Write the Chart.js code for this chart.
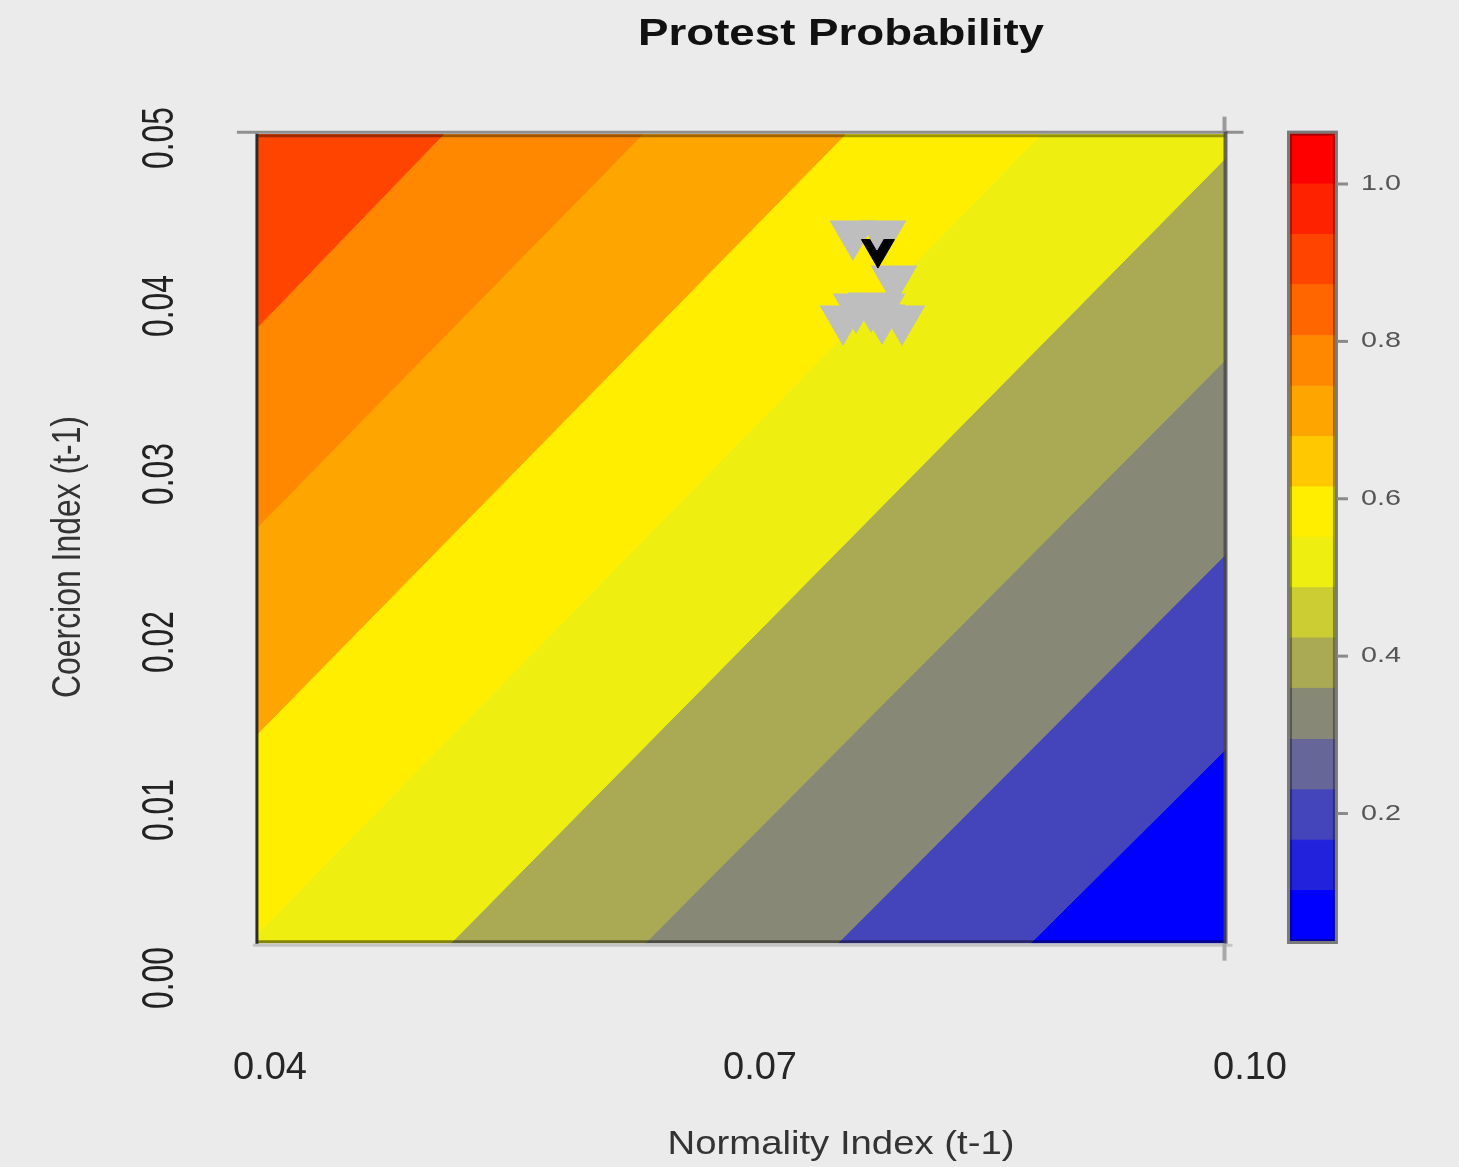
<!DOCTYPE html>
<html><head><meta charset="utf-8">
<script src="https://cdn.jsdelivr.net/npm/chart.js@4.4.1/dist/chart.umd.min.js"></script>
<style>html,body{margin:0;padding:0;background:#ebebeb;}canvas{display:block;}</style>
</head><body>
<canvas id="c" width="1459" height="1167" style="width:1459px;height:1167px"></canvas>
<script>
// ---------- data ----------
const xTicks = [0.04, 0.07, 0.10];
const xTickLabels = ['0.04', '0.07', '0.10'];
const yTicks = [0.00, 0.01, 0.02, 0.03, 0.04, 0.05];
const yTickLabels = ['0.00', '0.01', '0.02', '0.03', '0.04', '0.05'];
const keyTicks = [0.2, 0.4, 0.6, 0.8, 1.0];
const keyTickLabels = ['0.2', '0.4', '0.6', '0.8', '1.0'];

// grid extent of the filled contour
const boxX = [0.0392, 0.0985];
const boxY = [0.0021, 0.0502];

// contour boundaries (straight lines), from top-left to bottom-right
const contourX0 = [0.0392, 0.0392, 0.0392, 0.0392, 0.0512, 0.0631, 0.0749, 0.0867];
const contourY0 = [0.0387, 0.0268, 0.0145, 0.0026, 0.0022, 0.0022, 0.0022, 0.0022];
const contourX1 = [0.0508, 0.0630, 0.0754, 0.0874, 0.0987, 0.0987, 0.0987, 0.0987];
const contourY1 = [0.0504, 0.0504, 0.0504, 0.0504, 0.0490, 0.0370, 0.0254, 0.0138];

// colour-key levels (bottom to top)
const keyLevels = [0.038, 0.102, 0.166, 0.230, 0.294, 0.359, 0.423, 0.487, 0.551,
                   0.615, 0.679, 0.743, 0.807, 0.872, 0.936, 1.000, 1.064];

// observed points
const obsX = [0.07569, 0.07753, 0.07820, 0.07588, 0.07747, 0.07508, 0.07747, 0.07869, 0.07680];
const obsY = [0.04429, 0.04429, 0.04161, 0.03994, 0.03994, 0.03923, 0.03929, 0.03923, 0.04000];
const lastX = [0.07722];
const lastY = [0.04339];
const overX = [0.07716];
const overY = [0.04387];

// ---------- styles ----------
const bandColors = ['#FF4400', '#FF8800', '#FFA500', '#FFEE00', '#EEEE11', '#AAAA55', '#888877', '#4444BB', '#0000FF'];
const keyColors = ['#0000FF', '#2222DD', '#4444BB', '#666699', '#888877', '#AAAA55', '#CCCC33', '#EEEE11',
                   '#FFEE00', '#FFC800', '#FFA500', '#FF8800', '#FF6600', '#FF4400', '#FF2200', '#FF0000'];
const KEY_X = [0.10245, 0.1052];
const FONT = '"Liberation Sans", Arial, Helvetica, sans-serif';
const GRAY = '#bebebe';

// ---------- build polygons ----------
function clipHalf(poly, p0, p1, keepUpperLeft) {
  const side = q => (p1[0] - p0[0]) * (q[1] - p0[1]) - (p1[1] - p0[1]) * (q[0] - p0[0]);
  const out = [];
  for (let i = 0; i < poly.length; i++) {
    const a = poly[i], b = poly[(i + 1) % poly.length];
    const sa = keepUpperLeft ? side(a) : -side(a);
    const sb = keepUpperLeft ? side(b) : -side(b);
    if (sa >= 0) out.push(a);
    if ((sa >= 0) !== (sb >= 0)) {
      const t = sa / (sa - sb);
      out.push([a[0] + t * (b[0] - a[0]), a[1] + t * (b[1] - a[1])]);
    }
  }
  return out;
}
const boxPoly = [[boxX[0], boxY[0]], [boxX[0], boxY[1]], [boxX[1], boxY[1]], [boxX[1], boxY[0]]];
const datasets = [];
datasets.push({data: overX.map((x, i) => ({x, y: overY[i]})), pointStyle: 'triangle', rotation: 180,
  pointRadius: 9, backgroundColor: GRAY, borderColor: GRAY, borderWidth: 1, order: 0});
datasets.push({data: lastX.map((x, i) => ({x, y: lastY[i]})), pointStyle: 'triangle', rotation: 180,
  pointRadius: 19, backgroundColor: '#000', borderColor: '#000', borderWidth: 1, order: 1});
datasets.push({data: obsX.map((x, i) => ({x, y: obsY[i]})), pointStyle: 'triangle', rotation: 180,
  pointRadius: 24, backgroundColor: GRAY, borderColor: GRAY, borderWidth: 3, order: 2});
for (let i = 0; i < bandColors.length; i++) {
  let poly = boxPoly.slice();
  if (i > 0) poly = clipHalf(poly, [contourX0[i - 1], contourY0[i - 1]], [contourX1[i - 1], contourY1[i - 1]], false);
  if (i < contourX0.length) poly = clipHalf(poly, [contourX0[i], contourY0[i]], [contourX1[i], contourY1[i]], true);
  const pts = poly.map(p => ({x: p[0], y: p[1]}));
  pts.push(pts[0]);
  datasets.push({data: pts, showLine: true, fill: 'shape', tension: 0, pointRadius: 0,
    backgroundColor: bandColors[i], borderColor: bandColors[i], borderWidth: 1, order: 10});
}
for (let k = 0; k < keyColors.length; k++) {
  const lo = keyLevels[k], hi = keyLevels[k + 1];
  datasets.push({yAxisID: 'yKey', data: [{x: KEY_X[0], y: lo}, {x: KEY_X[1], y: lo}, {x: KEY_X[1], y: hi}, {x: KEY_X[0], y: hi}, {x: KEY_X[0], y: lo}],
    showLine: true, fill: 'shape', tension: 0, pointRadius: 0,
    backgroundColor: keyColors[k], borderColor: keyColors[k], borderWidth: 1, order: 10});
}

// ---------- text helper ----------
function drawFit(ctx, txt, x, y, size, width, o) {
  ctx.save();
  ctx.font = (o.weight || 'normal') + ' ' + size + 'px ' + FONT;
  const w = ctx.measureText(txt).width;
  ctx.translate(x, y);
  if (o.rot) ctx.rotate(o.rot);
  ctx.scale(width / w, 1);
  ctx.fillStyle = o.color;
  ctx.textAlign = 'center';
  ctx.textBaseline = 'middle';
  ctx.fillText(txt, 0, 0);
  ctx.restore();
}
function seg(ctx, x1, y1, x2, y2, color, w) {
  ctx.beginPath(); ctx.moveTo(x1, y1); ctx.lineTo(x2, y2);
  ctx.strokeStyle = color; ctx.lineWidth = w; ctx.stroke();
}

const decor = {
  id: 'decor',
  afterDatasetsDraw(chart) {
    const ctx = chart.ctx, xs = chart.scales.x, ys = chart.scales.y, yk = chart.scales.yKey;
    const L = xs.getPixelForValue(boxX[0]), R = xs.getPixelForValue(boxX[1]);
    const T = ys.getPixelForValue(boxY[1]), B = ys.getPixelForValue(boxY[0]);
    ctx.save();
    // plot frame
    seg(ctx, L - 20, T - 2.5, R + 18, T - 2.5, '#8f8f8f', 3);
    seg(ctx, L, T + 1, R, T + 1, 'rgba(0,0,0,0.38)', 3);
    seg(ctx, L, B - 1, R, B - 1, 'rgba(0,0,0,0.45)', 3);
    seg(ctx, L - 4, B + 2.5, R + 7, B + 2.5, '#c4c4c4', 3);
    seg(ctx, L, T - 1, L, B + 1, '#2a2a2a', 3);
    seg(ctx, R, T - 4, R, B + 1, 'rgba(70,70,70,0.8)', 4);
    seg(ctx, R - 1, T - 18, R - 1, T - 3, '#9a9a9a', 4);
    seg(ctx, R - 1, B + 1, R - 1, B + 18, '#a8a8a8', 4);
    // colour key frame
    const kL = xs.getPixelForValue(KEY_X[0]), kR = xs.getPixelForValue(KEY_X[1]);
    const kT = yk.getPixelForValue(keyLevels[keyLevels.length - 1]), kB = yk.getPixelForValue(keyLevels[0]);
    ctx.strokeStyle = 'rgba(0,0,0,0.35)'; ctx.lineWidth = 2;
    ctx.strokeRect(kL + 1, kT + 1, kR - kL - 2, kB - kT - 2);
    ctx.strokeStyle = '#7a7a7a'; ctx.lineWidth = 3;
    ctx.strokeRect(kL - 1.5, kT - 1.5, kR - kL + 3, kB - kT + 3);
    keyTicks.forEach(v => {
      const p = yk.getPixelForValue(v);
      seg(ctx, kR + 2, p, kR + 13, p, '#8a8a8a', 3);
    });
    ctx.restore();
  },
  afterDraw(chart) {
    const ctx = chart.ctx, ys = chart.scales.y, yk = chart.scales.yKey, xs = chart.scales.x;
    const kR = xs.getPixelForValue(KEY_X[1]);
    drawFit(ctx, 'Protest Probability', 841, 35, 37, 406, {weight: 'bold', color: '#111'});
    drawFit(ctx, 'Normality Index (t-1)', 841, 1145, 33, 347, {color: '#333'});
    drawFit(ctx, 'Coercion Index (t-1)', 69, 557, 40, 282, {rot: -Math.PI / 2, color: '#333'});
    yTicks.forEach((v, i) => drawFit(ctx, yTickLabels[i], 161, ys.getPixelForValue(v), 44, 62, {rot: -Math.PI / 2, color: '#222'}));
    keyTicks.forEach((v, i) => drawFit(ctx, keyTickLabels[i], kR + 46, yk.getPixelForValue(v), 22, 40, {color: '#555'}));
  }
};

new Chart(document.getElementById('c'), {
  type: 'scatter',
  data: {datasets},
  plugins: [decor],
  options: {
    responsive: false, animation: false, devicePixelRatio: 1, events: [],
    layout: {padding: {left: 240, right: 109, top: 115, bottom: 0}},
    plugins: {legend: {display: false}, tooltip: {enabled: false}, title: {display: false}},
    scales: {
      x: {
        type: 'linear', min: 0.0381633, max: 0.1061224,
        afterBuildTicks: s => { s.ticks = xTicks.map(v => ({value: v})); },
        afterFit: s => { s.height = 167; },
        grid: {display: false, drawTicks: false}, border: {display: false},
        ticks: {autoSkip: false, maxRotation: 0, padding: 46, color: '#262626',
          font: {family: FONT, size: 38}, callback: (v, i) => xTickLabels[i]}
      },
      y: {type: 'linear', min: -0.0013095, max: 0.051369, display: false},
      yKey: {type: 'linear', axis: 'y', position: 'right', min: -0.03698, max: 1.08769, display: false}
    }
  }
});
</script>
</body></html>
